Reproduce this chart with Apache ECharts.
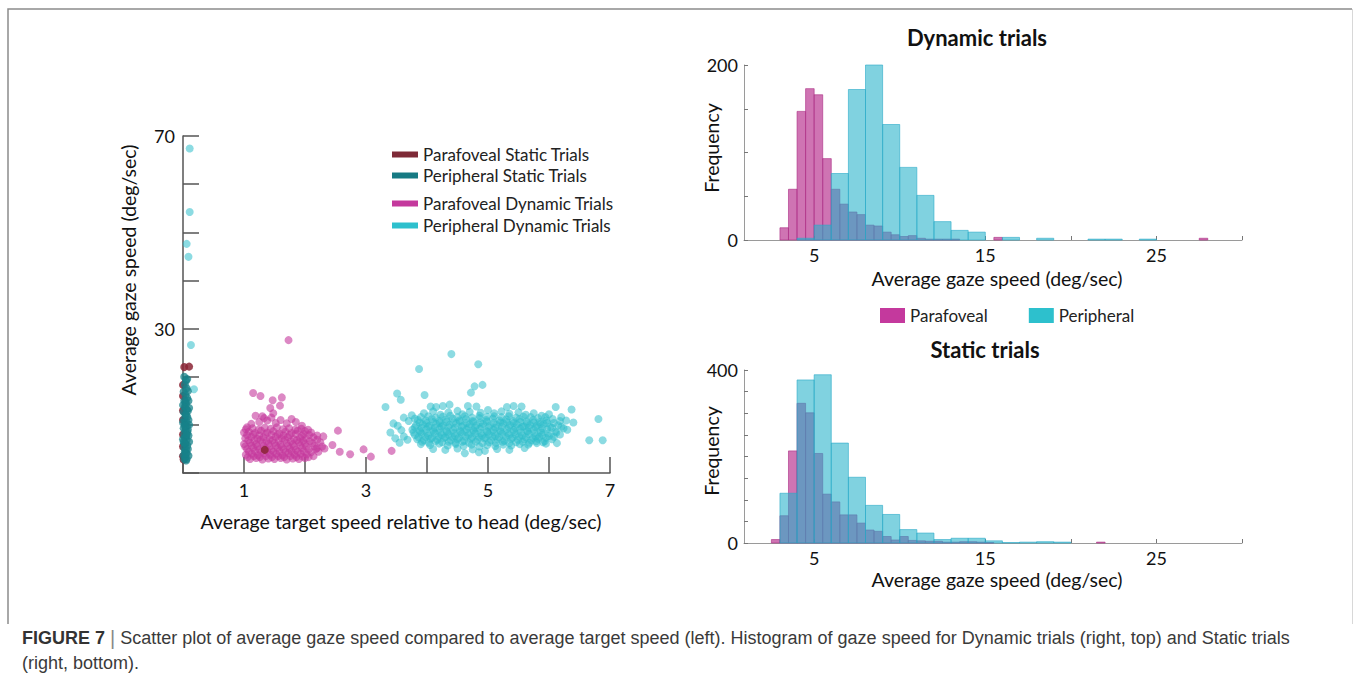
<!DOCTYPE html>
<html><head><meta charset="utf-8">
<script src="https://cdn.jsdelivr.net/npm/echarts@6/dist/echarts.min.js"></script>
<style>html,body{margin:0;padding:0;background:#fff}#c{width:1354px;height:681px}</style>
</head><body><div id="c"></div>
<script>
// ---------- Scatter data: [target speed, gaze speed] ----------
var paraStatic = [[0.02,22.0],[0.1,22.1],[0.0,18.3],[0.0,16.0],[0.0,13.0],[0.0,11.0],[0.0,8.0],[0.0,5.5],[0.0,3.5],[0.01,2.8],[1.34,4.8]];
var periStatic = [[0.02,20.0],[0.05,19.2],[0.03,18.4],[0.06,17.6],[0.01,16.9],[0.04,16.2],[0.07,15.6],[0.02,15.0],[0.05,14.4],[0.03,13.8],[0.06,13.2],[0.01,12.7],[0.04,12.2],[0.07,11.7],[0.02,11.2],[0.05,10.7],[0.03,10.2],[0.06,9.7],[0.01,9.3],[0.04,8.9],[0.07,8.5],[0.02,8.1],[0.05,7.7],[0.03,7.3],[0.06,6.9],[0.01,6.5],[0.04,6.1],[0.07,5.7],[0.02,5.3],[0.05,4.9],[0.03,4.5],[0.06,4.1],[0.01,3.7],[0.04,3.3],[0.02,2.9],[0.05,2.6],[0.08,12.9],[0.08,9.0],[0.0,14.1],[0.0,10.5],[0.0,7.0],[0.09,11.0],[0.09,15.0],
[0.08,17.0],[0.09,7.8],[0.08,5.0],[0.09,3.6],[0.1,13.5],[0.1,10.0],[0.1,6.5],[0.07,19.5],[0.06,2.9],[0.04,14.8],[0.05,12.0],[0.03,9.8],[0.06,8.0],[0.02,6.2],[0.04,4.0]];
var paraDynamic = [[1.73,27.6],[1.15,16.6],[1.27,16.0],[1.47,15.1],[1.62,15.7],[1.43,13.5],[1.59,14.0],[1.48,12.4],[1.19,11.9],[1.33,11.4],[2.30,7.6],[2.54,8.8],[2.45,5.8],[2.57,4.4],[2.74,3.9],[2.96,4.9],[3.08,3.4],[2.2,5.2],[2.32,5.1],[3.42,4.6],
[1.05,9.5],[1.12,10.2],[1.25,10.6],[1.38,10.9],[1.52,10.4],[1.6,11.0],[1.7,10.3],[1.85,10.6],[1.95,9.8],[1.0,8.4],[2.05,9.0],[1.45,11.5],[1.3,11.8],[1.78,11.2],
[1.03,9.1],[1.14,9.3],[1.24,9.0],[1.34,9.4],[1.44,9.2],[1.54,9.5],[1.64,9.1],[1.74,9.3],[1.84,9.0],[1.94,9.2],[2.0,8.7],
[1.08,8.6],[1.18,8.3],[1.28,8.8],[1.38,8.4],[1.48,8.7],[1.58,8.2],[1.68,8.6],[1.78,8.3],[1.88,8.8],[1.98,8.1],[2.1,8.4],
[1.05,7.9],[1.15,8.0],[1.25,7.8],[1.35,8.1],[1.45,7.9],[1.55,8.0],[1.65,7.8],[1.75,7.9],[1.85,8.1],[1.95,7.7],[2.07,7.9],[2.2,7.8],
[1.02,7.2],[1.12,7.5],[1.22,7.1],[1.32,7.4],[1.42,7.0],[1.52,7.5],[1.62,7.2],[1.72,7.4],[1.82,7.0],[1.92,7.3],[2.02,7.1],[2.14,7.4],
[1.07,6.8],[1.17,6.7],[1.27,6.9],[1.37,6.6],[1.47,6.8],[1.57,6.7],[1.67,6.9],[1.77,6.6],[1.87,6.8],[1.97,6.7],[2.08,6.6],[2.2,6.9],
[1.0,6.0],[1.1,6.3],[1.2,6.0],[1.3,6.4],[1.4,6.1],[1.5,6.3],[1.6,5.9],[1.7,6.2],[1.8,6.0],[1.9,6.4],[2.0,6.1],[2.12,6.2],[2.25,6.4],
[1.02,5.5],[1.12,5.7],[1.22,5.5],[1.32,5.6],[1.42,5.5],[1.52,5.7],[1.62,5.4],[1.72,5.6],[1.82,5.5],[1.92,5.7],[2.02,5.5],[2.15,5.6],[2.28,5.5],
[1.05,5.0],[1.15,5.2],[1.25,4.9],[1.35,5.1],[1.45,4.8],[1.55,5.2],[1.65,4.9],[1.75,5.1],[1.85,4.8],[1.95,5.2],[2.06,4.9],[2.18,5.0],
[1.08,4.4],[1.18,4.5],[1.28,4.3],[1.38,4.5],[1.48,4.4],[1.58,4.5],[1.68,4.3],[1.78,4.5],[1.88,4.4],[1.98,4.5],[2.1,4.3],[2.22,4.4],
[1.03,3.8],[1.13,4.0],[1.23,3.7],[1.33,4.1],[1.43,3.8],[1.53,4.0],[1.63,3.7],[1.73,4.1],[1.83,3.8],[1.93,4.0],[2.03,3.9],
[1.06,3.3],[1.16,3.5],[1.26,3.3],[1.36,3.5],[1.46,3.3],[1.56,3.5],[1.66,3.3],[1.76,3.5],[1.86,3.3],[1.96,3.4],[2.06,3.3],[2.14,3.5],
[1.1,2.9],[1.2,3.1],[1.3,2.8],[1.4,3.0],[1.5,2.9],[1.6,3.1],[1.7,2.8],[1.8,3.0],[1.9,2.9],[2.0,3.1]];
var periDynamic = [[0.11,67.4],[0.11,54.2],[0.06,47.6],[0.09,44.9],[0.13,26.6],[0.18,17.4],
[4.40,24.7],[4.84,22.6],[3.87,21.6],[4.91,18.3],[4.78,18.0],[4.72,16.7],[3.51,16.5],[3.96,16.2],[3.57,15.2],[4.06,13.8],[4.15,13.7],[4.26,13.9],[4.37,14.2],[4.67,13.9],[4.81,13.8],[5.31,13.7],[5.42,13.9],[5.55,13.8],[6.11,13.7],[6.37,13.2],[3.32,13.7],[6.81,11.2],[6.66,6.8],[6.88,6.8],[6.40,10.5],[6.13,6.2],[4.62,4.1],
[3.45,10.3],[3.52,9.8],[3.40,8.4],[3.58,8.9],[3.48,7.2],[3.62,7.6],[3.55,6.3],[3.70,10.8],[3.68,6.9],[3.75,12.0],[3.80,11.3],[3.62,11.5],
[3.95,12.4],[4.10,12.8],[4.22,12.1],[4.35,12.6],[4.50,12.9],[4.58,12.2],[4.70,12.7],[4.88,12.5],[5.00,13.1],[5.10,12.4],[5.22,12.8],[5.35,12.3],[5.50,12.6],[5.62,12.1],[5.75,12.4],[5.88,11.9],[6.00,12.2],[6.20,11.6],[6.28,10.9],
[3.9,11.6],[4.02,11.8],[4.14,11.5],[4.26,11.7],[4.38,11.9],[4.5,11.6],[4.62,11.8],[4.74,11.5],[4.86,11.9],[4.98,11.7],[5.1,11.8],[5.22,11.6],[5.34,11.8],[5.46,11.5],[5.58,11.7],[5.7,11.6],[5.82,11.4],[5.94,11.6],[6.06,11.2],[6.18,10.8],
[3.85,11.0],[3.98,10.9],[4.08,11.2],[4.2,10.8],[4.31,11.1],[4.42,11.3],[4.53,10.9],[4.64,11.2],[4.75,10.8],[4.86,11.4],[4.97,11.0],[5.08,11.3],[5.19,10.9],[5.3,11.1],[5.41,10.8],[5.52,11.2],[5.63,10.7],[5.74,11.0],[5.85,10.6],[5.96,10.9],[6.08,10.4],
[3.88,10.5],[3.99,10.4],[4.1,10.6],[4.21,10.4],[4.32,10.6],[4.43,10.5],[4.54,10.7],[4.65,10.4],[4.76,10.6],[4.87,10.5],[4.98,10.7],[5.09,10.4],[5.2,10.5],[5.31,10.6],[5.42,10.4],[5.53,10.6],[5.64,10.3],[5.75,10.5],[5.86,10.2],[5.97,10.4],
[3.82,9.9],[3.93,10.1],[4.04,9.8],[4.15,10.2],[4.26,9.9],[4.37,10.0],[4.48,10.3],[4.59,9.8],[4.7,10.1],[4.81,9.9],[4.92,10.2],[5.03,9.8],[5.14,10.0],[5.25,10.3],[5.36,9.9],[5.47,10.1],[5.58,9.7],[5.69,10.0],[5.8,9.8],[5.91,10.2],[6.02,9.6],[6.15,9.9],[6.24,9.3],
[3.8,9.5],[3.91,9.4],[4.02,9.6],[4.13,9.4],[4.24,9.6],[4.35,9.5],[4.46,9.4],[4.57,9.6],[4.68,9.5],[4.79,9.4],[4.9,9.6],[5.01,9.5],[5.12,9.4],[5.23,9.6],[5.34,9.5],[5.45,9.4],[5.56,9.6],[5.67,9.4],[5.78,9.5],[5.89,9.3],[6.05,9.4],[6.2,9.6],
[3.76,9.0],[3.88,8.8],[3.99,9.1],[4.1,8.9],[4.21,9.2],[4.32,8.7],[4.43,9.0],[4.54,8.8],[4.65,9.1],[4.76,8.9],[4.87,9.2],[4.98,8.7],[5.09,9.0],[5.2,8.8],[5.31,9.1],[5.42,8.9],[5.53,9.2],[5.64,8.7],[5.75,9.0],[5.86,8.8],[5.97,9.1],[6.1,8.6],[6.3,9.0],
[3.78,8.4],[3.89,8.5],[4.0,8.3],[4.11,8.6],[4.22,8.4],[4.33,8.5],[4.44,8.3],[4.55,8.5],[4.66,8.4],[4.77,8.6],[4.88,8.3],[4.99,8.5],[5.1,8.4],[5.21,8.6],[5.32,8.3],[5.43,8.5],[5.54,8.4],[5.65,8.6],[5.76,8.3],[5.87,8.4],[5.98,8.2],[6.12,8.4],
[3.8,7.9],[3.91,8.1],[4.02,7.8],[4.13,8.2],[4.24,7.9],[4.35,8.0],[4.46,7.7],[4.57,8.1],[4.68,7.9],[4.79,8.2],[4.9,7.8],[5.01,8.0],[5.12,7.7],[5.23,8.1],[5.34,7.9],[5.45,8.0],[5.56,7.8],[5.67,8.1],[5.78,7.6],[5.89,7.9],[6.0,7.7],[6.18,8.0],
[3.86,7.4],[3.97,7.5],[4.08,7.3],[4.19,7.6],[4.3,7.4],[4.41,7.5],[4.52,7.3],[4.63,7.6],[4.74,7.4],[4.85,7.5],[4.96,7.3],[5.07,7.6],[5.18,7.4],[5.29,7.5],[5.4,7.3],[5.51,7.6],[5.62,7.4],[5.73,7.3],[5.84,7.5],[5.95,7.3],[6.08,7.5],
[3.84,7.0],[3.95,6.8],[4.06,7.1],[4.17,6.9],[4.28,7.2],[4.39,6.8],[4.5,7.0],[4.61,6.7],[4.72,7.1],[4.83,6.9],[4.94,7.2],[5.05,6.8],[5.16,7.0],[5.27,6.7],[5.38,7.1],[5.49,6.9],[5.6,7.0],[5.71,6.8],[5.82,7.1],[5.93,6.6],[6.05,7.0],
[3.92,6.5],[4.03,6.3],[4.14,6.6],[4.25,6.4],[4.36,6.5],[4.47,6.3],[4.58,6.5],[4.69,6.3],[4.8,6.5],[4.91,6.2],[5.02,6.4],[5.13,6.3],[5.24,6.5],[5.35,6.2],[5.46,6.4],[5.57,6.5],[5.68,6.3],[5.79,6.6],[5.9,6.4],
[3.9,6.0],[4.05,5.8],[4.2,6.1],[4.34,5.7],[4.47,6.0],[4.6,5.6],[4.73,5.9],[4.86,5.5],[4.99,5.8],[5.12,5.6],[5.25,5.9],[5.38,5.7],[5.52,6.0],[5.66,5.9],[5.8,6.2],[5.95,6.1],
[4.1,5.0],[4.3,4.8],[4.5,5.1],[4.75,4.9],[4.95,4.6],[5.15,5.0],[5.35,4.8],[5.6,5.2],[4.85,4.3]];

// ---------- Histogram data ----------
// Dynamic trials, parafoveal: bins of 0.5 starting at 3.0
var dynParaStart = 3.0, dynParaWidth = 0.5;
var dynParaCounts = [14,58,147,173,166,93,58,41,32,29,17,16,9,6,4,5,2,1,1,1,1,0,0,0,0,3,0,0,0,0,0,0,0,0,0,0,0,0,0,0,0,0,0,0,0,0,0,0,0,2];
// Dynamic trials, peripheral: bins of 1 starting at 4
var dynPeriStart = 4, dynPeriWidth = 1;
var dynPeriCounts = [2,17,76,172,200,132,83,51,21,11,9,0,3,0,2,0,0,1,1,0,1];
// Static trials, parafoveal: bins of 0.5 starting at 2.5
var staParaStart = 2.5, staParaWidth = 0.5;
var staParaCounts = [8,63,213,323,301,207,113,95,65,65,46,30,27,15,7,15,6,5,4,4,2,2,3,3,2,1,0,0,0,0,0,0,0,0,0,0,0,0,2];
// Static trials, peripheral: bins of 1 starting at 3
var staPeriStart = 3, staPeriWidth = 1;
var staPeriCounts = [115,377,389,231,152,87,66,31,23,8,11,11,5,1,2,3,2];

var histXTicks = [5,10,15,20,25,30];
var histXLabels = [5,15,25];

function bins(start, width, counts) {
  var out = [];
  for (var i = 0; i < counts.length; i++) {
    if (counts[i] > 0) out.push([start + i * width, start + (i + 1) * width, counts[i]]);
  }
  return out;
}
function histItem(params, api) {
  var p0 = api.coord([api.value(0), api.value(2)]);
  var p1 = api.coord([api.value(1), 0]);
  return {type: 'rect', shape: {x: p0[0], y: p0[1], width: p1[0] - p0[0], height: p1[1] - p0[1]}, style: api.style()};
}

var FONT = 'Lato';
var MAG = 'rgba(188,62,150,0.72)', MAGB = 'rgba(170,40,130,0.75)';
var CYA = 'rgba(36,178,202,0.58)', CYAB = 'rgba(40,170,200,0.75)';

function histX(gi) {
  return {gridIndex: gi, type: 'value', min: 0.9, max: 30,
    axisLine: {lineStyle: {color: '#9a9a9a', width: 1}},
    axisTick: {inside: true, length: 4, customValues: histXTicks, lineStyle: {color: '#777'}},
    axisLabel: {customValues: histXLabels, margin: 6, color: '#111', fontSize: 18, fontFamily: FONT},
    splitLine: {show: false}};
}
function histY(gi, max) {
  return {gridIndex: gi, type: 'value', min: 0, max: max, interval: 50,
    axisLine: {show: true, lineStyle: {color: '#9a9a9a', width: 1}},
    axisTick: {show: true, inside: true, length: 4, lineStyle: {color: '#777'}},
    axisLabel: {margin: 6, color: '#111', fontSize: 18, fontFamily: FONT,
      formatter: function (v) { return (v === 0 || v === max) ? String(v) : ''; }},
    splitLine: {show: false}};
}
function txt(x, y, s, size, opts) {
  opts = opts || {};
  return {type: 'text', x: x, y: y, rotation: opts.rot || 0, silent: true,
    style: {text: s, fontSize: size, fontFamily: opts.family || FONT, fontWeight: opts.weight || 'normal',
      fill: opts.fill || '#111', align: opts.align || 'center', textAlign: opts.align || 'center',
      verticalAlign: 'middle', textVerticalAlign: 'middle', rich: opts.rich}};
}
var CAPF = 'Liberation Sans';

var chart = echarts.init(document.getElementById('c'), null, {renderer: 'svg'});
chart.setOption({
  backgroundColor: '#fff',
  animation: false,
  grid: [
    {left: 183, top: 136, width: 427, height: 337},
    {left: 744, top: 65, width: 498, height: 175},
    {left: 744, top: 370, width: 498, height: 173}
  ],
  xAxis: [
    {gridIndex: 0, type: 'value', min: 0, max: 7, interval: 1,
      axisLine: {lineStyle: {color: '#555', width: 1.5}},
      axisTick: {inside: true, length: 16, lineStyle: {color: '#555', width: 1.5}},
      axisLabel: {margin: 8, color: '#111', fontSize: 18, fontFamily: FONT,
        formatter: function (v) { return (v % 2 === 1) ? String(v) : ''; }},
      splitLine: {show: false}},
    histX(1), histX(2)
  ],
  yAxis: [
    {gridIndex: 0, type: 'value', min: 0, max: 70, interval: 10,
      axisLine: {lineStyle: {color: '#555', width: 1.5}},
      axisTick: {inside: true, length: 16, lineStyle: {color: '#555', width: 1.5}},
      axisLabel: {margin: 8, color: '#111', fontSize: 18, fontFamily: FONT,
        formatter: function (v) { return (v === 70 || v === 30) ? String(v) : ''; }},
      splitLine: {show: false}},
    histY(1, 200), histY(2, 400)
  ],
  legend: [
    {orient: 'vertical', left: 392, top: 146, padding: 0, itemWidth: 26, itemHeight: 6, itemGap: 4, icon: 'rect',
      textStyle: {fontSize: 17, fontFamily: FONT, color: '#222'},
      data: [{name: 'Parafoveal Static Trials', itemStyle: {color: '#7e2a37', opacity: 1}},
             {name: 'Peripheral Static Trials', itemStyle: {color: '#167a83', opacity: 1}}]},
    {orient: 'vertical', left: 392, top: 195, padding: 0, itemWidth: 26, itemHeight: 6, itemGap: 5, icon: 'rect',
      textStyle: {fontSize: 17, fontFamily: FONT, color: '#222'},
      data: [{name: 'Parafoveal Dynamic Trials', itemStyle: {color: '#c4399d', opacity: 1}},
             {name: 'Peripheral Dynamic Trials', itemStyle: {color: '#2dc0cd', opacity: 1}}]},
    {orient: 'horizontal', left: 880, top: 307, padding: 0, itemWidth: 25, itemHeight: 15, itemGap: 41, icon: 'rect',
      textStyle: {fontSize: 17, fontFamily: FONT, color: '#222'},
      data: [{name: 'Parafoveal', itemStyle: {color: '#c4399d', opacity: 1, borderWidth: 0}},
             {name: 'Peripheral', itemStyle: {color: '#2dc0cd', opacity: 1, borderWidth: 0}}]}
  ],
  series: [
    {name: 'Parafoveal Dynamic Trials', type: 'scatter', xAxisIndex: 0, yAxisIndex: 0, data: paraDynamic,
      symbolSize: 8, itemStyle: {color: '#c4399d', opacity: 0.6}},
    {name: 'Peripheral Dynamic Trials', type: 'scatter', xAxisIndex: 0, yAxisIndex: 0, data: periDynamic,
      symbolSize: 8, itemStyle: {color: '#2dbdca', opacity: 0.55}},
    {name: 'Parafoveal Static Trials', type: 'scatter', xAxisIndex: 0, yAxisIndex: 0, data: paraStatic,
      symbolSize: 8, itemStyle: {color: '#8b2535', opacity: 0.85}},
    {name: 'Peripheral Static Trials', type: 'scatter', xAxisIndex: 0, yAxisIndex: 0, data: periStatic,
      symbolSize: 8, itemStyle: {color: '#17818a', opacity: 0.75}},
    {name: 'Parafoveal', type: 'custom', xAxisIndex: 1, yAxisIndex: 1, renderItem: histItem,
      encode: {x: [0, 1], y: 2}, data: bins(dynParaStart, dynParaWidth, dynParaCounts),
      itemStyle: {color: MAG, borderColor: MAGB, borderWidth: 0.8}},
    {name: 'Peripheral', type: 'custom', xAxisIndex: 1, yAxisIndex: 1, renderItem: histItem,
      encode: {x: [0, 1], y: 2}, data: bins(dynPeriStart, dynPeriWidth, dynPeriCounts),
      itemStyle: {color: CYA, borderColor: CYAB, borderWidth: 0.8}},
    {name: 'Parafoveal', type: 'custom', xAxisIndex: 2, yAxisIndex: 2, renderItem: histItem,
      encode: {x: [0, 1], y: 2}, data: bins(staParaStart, staParaWidth, staParaCounts),
      itemStyle: {color: MAG, borderColor: MAGB, borderWidth: 0.8}},
    {name: 'Peripheral', type: 'custom', xAxisIndex: 2, yAxisIndex: 2, renderItem: histItem,
      encode: {x: [0, 1], y: 2}, data: bins(staPeriStart, staPeriWidth, staPeriCounts),
      itemStyle: {color: CYA, borderColor: CYAB, borderWidth: 0.8}}
  ],
  graphic: [
    {type: 'polyline', silent: true, shape: {points: [[8, 624], [8, 9], [1352, 9]]}, style: {stroke: '#8c8c8c', lineWidth: 1.5, fill: null}},
    {type: 'line', silent: true, shape: {x1: 1352.5, y1: 9, x2: 1352.5, y2: 624}, style: {stroke: '#d8d8d8', lineWidth: 1}},
    txt(128, 270, 'Average gaze speed (deg/sec)', 19.5, {rot: Math.PI / 2}),
    txt(401, 521, 'Average target speed relative to head (deg/sec)', 19.5),
    txt(977, 37, 'Dynamic trials', 22, {weight: 'bold'}),
    txt(985, 349, 'Static trials', 22, {weight: 'bold'}),
    txt(711, 148, 'Frequency', 19.5, {rot: Math.PI / 2}),
    txt(711, 451, 'Frequency', 19.5, {rot: Math.PI / 2}),
    txt(997, 278, 'Average gaze speed (deg/sec)', 19.5),
    txt(997, 579, 'Average gaze speed (deg/sec)', 19.5),
    txt(22, 638, '{b|FIGURE 7} {s||} Scatter plot of average gaze speed compared to average target speed (left). Histogram of gaze speed for Dynamic trials (right, top) and Static trials', 18,
      {align: 'left', family: CAPF, fill: '#3a3a3a',
       rich: {b: {fontWeight: 'bold', fontSize: 18, fontFamily: CAPF, fill: '#333'},
              s: {fontSize: 20, fontFamily: CAPF, fill: '#888'}}}),
    txt(22, 663, '(right, bottom).', 18, {align: 'left', family: CAPF, fill: '#3a3a3a'})
  ]
});
</script></body></html>
